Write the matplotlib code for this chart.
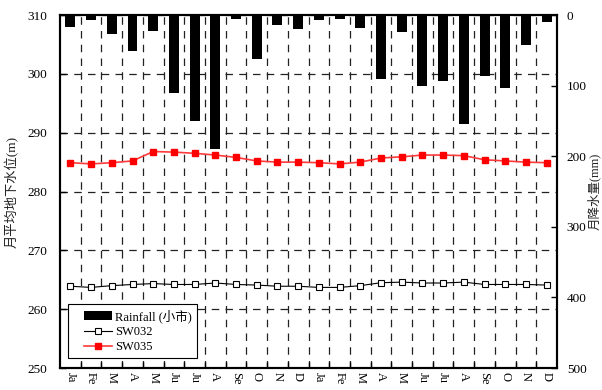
import numpy as np
import matplotlib.pyplot as plt
from matplotlib.lines import Line2D
from matplotlib.patches import Rectangle
from matplotlib.legend_handler import HandlerPatch, HandlerLine2D

plt.rcParams['font.family'] = ['Liberation Serif', 'Noto Sans CJK SC']

# 月份标签 (图中被裁掉只剩前几个字母)
months = ["Ja", "Fe", "M", "A", "M", "Ju", "Ju", "A", "Se", "O", "N", "D"] * 2

# 月降水量 (mm)
rainfall = [17, 7, 27, 51, 23, 110, 150, 190, 5, 62, 14, 20,
            7, 5, 18, 90, 24, 100, 93, 154, 86, 103, 43, 10]

# 月平均地下水位 (m)
sw032 = [263.9, 263.7, 264.0, 264.2, 264.35, 264.2, 264.2, 264.45, 264.2, 264.1, 263.9, 263.9,
         263.7, 263.7, 264.0, 264.5, 264.6, 264.45, 264.45, 264.6, 264.2, 264.2, 264.2, 264.1]
sw035 = [284.9, 284.7, 284.9, 285.2, 286.8, 286.7, 286.5, 286.2, 285.8, 285.2, 285.0, 285.0,
         284.9, 284.7, 285.0, 285.7, 285.9, 286.2, 286.2, 286.1, 285.4, 285.2, 285.0, 284.9]

x = np.arange(len(months))

fig = plt.figure(figsize=(6.02, 3.90), dpi=100)
ax = fig.add_axes([0.0997, 0.0564, 0.8256, 0.905])
ax2 = ax.twinx()

# 地下水位折线
l1, = ax.plot(x, sw032, color='black', lw=0.8, marker='s', ms=4.5,
              mfc='white', mec='black', mew=0.8, label='SW032')
l2, = ax.plot(x, sw035, color='#ff3a3a', lw=1.2, marker='s', ms=5,
              mfc='red', mec='red', label='SW035')
ax.set_ylim(250, 310)
ax.set_yticks(np.arange(250, 311, 10))
ax.set_xlim(-0.5, len(months) - 0.5)

# 刻度在类别之间, 标签在类别中心
ax.set_xticks(np.arange(0.5, len(months) - 0.5, 1))
ax.set_xticklabels([])
ax.set_xticks(x, minor=True)
ax.set_xticklabels(months, minor=True, rotation=-90, fontsize=9, va='top', ha='center')
ax.tick_params(axis='x', which='minor', length=0, pad=3)
ax.tick_params(axis='x', which='major', direction='in', length=4, width=1)
ax.tick_params(axis='y', direction='in', length=4, width=1, labelsize=9.5, pad=9)

ax.grid(True, which='major', color='#222222', linestyle=(0, (6, 5)), lw=0.9)
ax.set_ylabel('月平均地下水位(m)', fontsize=9.5, labelpad=6, color='#222222')

# 降水量柱 (倒置右轴)
bars = ax2.bar(x, rainfall, width=0.48, color='black', label='Rainfall (小市)')
ax2.set_ylim(500, 0)
ax2.set_yticks(np.arange(0, 501, 100))
ax2.tick_params(axis='y', direction='in', length=4, width=1, labelsize=9.5, pad=7)
ax2.set_ylabel('月降水量(mm)', fontsize=9, labelpad=0, color='#222222')

for a in (ax, ax2):
    for s in a.spines.values():
        s.set_linewidth(1.5)

hm = {Rectangle: HandlerPatch(xpad=0.88), Line2D: HandlerLine2D(xpad=0.88)}
leg = ax2.legend([bars[0], l1, l2], ['Rainfall (小市)', 'SW032', 'SW035'],
                 handler_map=hm,
                 loc='lower left', bbox_to_anchor=(0.016, 0.028), borderaxespad=0,
                 fontsize=9, fancybox=False, framealpha=1, edgecolor='black',
                 handlelength=3.1, labelspacing=0.25, borderpad=0.4, handletextpad=0.3)
leg.get_frame().set_linewidth(0.8)
leg.set_zorder(10)

fig.savefig('out.png', dpi=100)
